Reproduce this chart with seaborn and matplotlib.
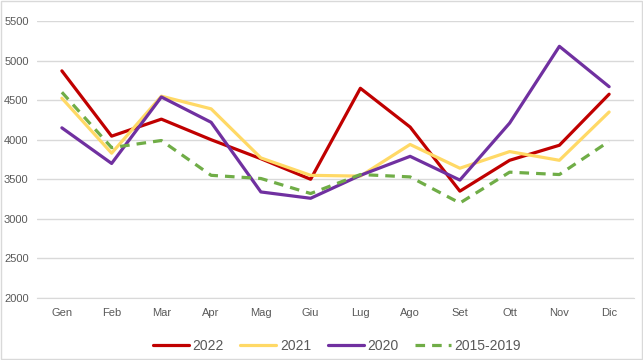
import seaborn as sns
import matplotlib.pyplot as plt
import pandas as pd

months = ["Gen", "Feb", "Mar", "Apr", "Mag", "Giu", "Lug", "Ago", "Set", "Ott", "Nov", "Dic"]
y2022 = [4870, 4045, 4260, 4000, 3760, 3500, 4650, 4160, 3350, 3740, 3930, 4575]
y2021 = [4525, 3830, 4550, 4390, 3770, 3550, 3540, 3940, 3640, 3850, 3740, 4350]
y2020 = [4150, 3700, 4540, 4220, 3340, 3260, 3550, 3790, 3490, 4210, 5180, 4670]
y1519 = [4600, 3900, 3990, 3550, 3510, 3320, 3560, 3530, 3200, 3590, 3560, 3980]

series = ["2022", "2021", "2020", "2015-2019"]
colors = ["#C00000", "#FFD966", "#7030A0", "#70AD47"]

rows = []
for name, vals in zip(series, [y2022, y2021, y2020, y1519]):
    for i, v in enumerate(vals):
        rows.append({"idx": i, "value": v, "serie": name})
df = pd.DataFrame(rows)

sns.set_style("white")
plt.rcParams["font.family"] = ["Liberation Sans", "DejaVu Sans"]

fig = plt.figure(figsize=(6.43, 3.6), dpi=100)
ax = fig.add_axes([37 / 643, 1 - 298 / 360, 597 / 643, 277 / 360])

sns.lineplot(data=df, x="idx", y="value", hue="serie", style="serie",
             hue_order=series, style_order=series,
             palette=colors,
             dashes={"2022": "", "2021": "", "2020": "", "2015-2019": (3, 2.2)},
             linewidth=2.3, ax=ax, legend=True)

ax.set_xlim(-0.5, 11.5)
ax.set_ylim(2000, 5500)
ax.set_yticks(range(2000, 5501, 500))
ax.set_xticks(range(12))
ax.set_xticklabels(months)
ax.set_xticks([i - 0.5 for i in range(13)], minor=True)
ax.tick_params(axis="x", which="major", length=0, pad=7, labelsize=8, labelcolor="#595959")
ax.tick_params(axis="x", which="minor", length=5, color="#D9D9D9", width=1)
ax.tick_params(axis="y", length=0, pad=6, labelsize=8, labelcolor="#595959")
ax.grid(axis="y", color="#D9D9D9", linewidth=1)
ax.set_axisbelow(True)
for s in ["top", "right", "left"]:
    ax.spines[s].set_visible(False)
ax.spines["bottom"].set_color("#D9D9D9")
ax.set_xlabel("")
ax.set_ylabel("")

handles, labels = ax.get_legend_handles_labels()
ax.legend(handles, labels, loc="center", bbox_to_anchor=(0.524, 0.039),
          bbox_transform=fig.transFigure,
          ncol=4, frameon=False, fontsize=10, handlelength=2.6,
          handletextpad=0.25, columnspacing=1.2, labelcolor="#595959")

fig.patches.append(plt.Rectangle((0.001, 0.002), 0.997, 0.995, transform=fig.transFigure,
                                 fill=False, edgecolor="#D9D9D9", linewidth=1))

fig.savefig("out.png", dpi=100)
